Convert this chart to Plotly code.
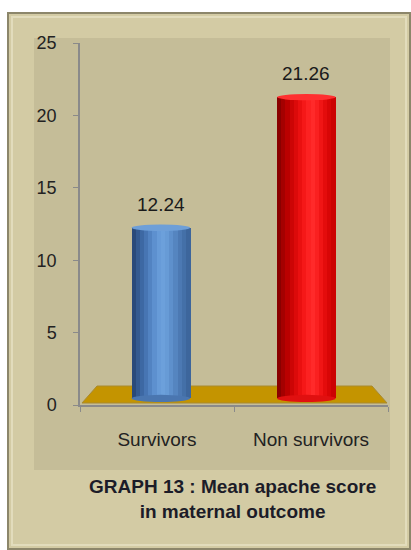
import plotly.graph_objects as go

categories = ["Survivors", "Non survivors"]
values = [12.24, 21.26]
value_labels = ["12.24", "21.26"]
y_ticks = [0, 5, 10, 15, 20, 25]
title_text = "GRAPH 13 : Mean apache score<br>in maternal outcome"

# styling
blue_grad = ["#2a4a7a", "#345a90", "#3d68a3", "#4775b3", "#5283c2", "#5d90cf", "#679bd8",
             "#6ca0db", "#679bd6", "#5e90cc", "#5585c0", "#4c79b3", "#4470a8", "#3d669c"]
red_grad = ["#8a0000", "#a40000", "#ba0000", "#cc0505", "#dc0a0a", "#ea1010", "#f51818",
            "#fc2222", "#ff2a2a", "#fa2020", "#f01515", "#e40c0c", "#d80606", "#cc0202"]
bar_w = 0.38
base_v = 0.45
shift = [0.025, -0.03]

fig = go.Figure()
n = len(blue_grad)
sw = bar_w / n
for i in range(n):
    fig.add_trace(go.Bar(
        x=categories, y=[v - base_v for v in values], base=base_v,
        width=sw * 1.15, offset=[-bar_w / 2 + i * sw + s for s in shift],
        marker=dict(color=[blue_grad[i], red_grad[i]], line=dict(width=0)),
        hoverinfo="skip", showlegend=False))

shapes = []
W = 411
H = 550
L, R, T, B = 80, 23, 43, 145
pw = W - L - R
ph = H - T - B
def px(x):
    return (x - L) / pw
def py(y):
    return (H - B - y) / ph

# outer panel
shapes.append(dict(type="rect", xref="paper", yref="paper", x0=px(8), x1=px(410), y0=py(13), y1=py(549),
                   fillcolor="#d3cba4", line=dict(color="#8c866a", width=2), layer="below"))
shapes.append(dict(type="rect", xref="paper", yref="paper", x0=px(12), x1=px(406), y0=py(17), y1=py(545),
                   fillcolor="rgba(0,0,0,0)", line=dict(color="#e2dcbc", width=2), layer="below"))
# inner plot region
shapes.append(dict(type="rect", xref="paper", yref="paper", x0=px(34), x1=px(390), y0=py(38), y1=py(470),
                   fillcolor="#c5bd98", line=dict(width=0), layer="below"))
# floor
shapes.append(dict(type="path", xref="paper", yref="paper",
                   path="M {},{} L {},{} L {},{} L {},{} Z".format(px(82), py(403), px(97), py(386),
                                                                  px(372), py(386), px(387), py(403)),
                   fillcolor="#c49400", line=dict(color="#a88a30", width=1), layer="below"))

top_cols = ["#6e9fd8", "#ff3030"]
bot_cols = ["#4a76b0", "#e01010"]
for i, v in enumerate(values):
    c = i + shift[i]
    shapes.append(dict(type="circle", xref="x", yref="y", x0=c - bar_w / 2, x1=c + bar_w / 2,
                       y0=base_v - 0.25, y1=base_v + 0.25, fillcolor=bot_cols[i], line=dict(width=0)))
    shapes.append(dict(type="circle", xref="x", yref="y", x0=c - bar_w / 2, x1=c + bar_w / 2,
                       y0=v - 0.22, y1=v + 0.22, fillcolor=top_cols[i], line=dict(width=0)))

annotations = []
for i, v in enumerate(values):
    annotations.append(dict(x=i + shift[i], y=v, text=value_labels[i], showarrow=False,
                            yanchor="bottom", yshift=11, font=dict(size=19, color="#1a1a1a")))
annotations.append(dict(x=px(232), y=py(499), xref="paper", yref="paper",
                        text="<b>" + title_text.replace("<br>", "</b><br><b>") + "</b>",
                        showarrow=False, align="center", xanchor="center", yanchor="middle",
                        font=dict(size=19, color="#1c1c28", family="Liberation Sans")))

fig.update_layout(
    width=W, height=H, margin=dict(l=L, r=R, t=T, b=B),
    paper_bgcolor="white", plot_bgcolor="rgba(0,0,0,0)",
    barmode="overlay", bargap=0,
    font=dict(family="Liberation Sans", size=16, color="#222222"),
    shapes=shapes, annotations=annotations, showlegend=False,
    xaxis=dict(type="category", showline=True, linecolor="#8a8a8a", linewidth=1.5,
               ticks="outside", tickson="boundaries", ticklen=5, tickcolor="#8a8a8a",
               showgrid=False, tickfont=dict(size=19, color="#222"), ticklabelstandoff=16,
               range=[-0.5, 1.5]),
    yaxis=dict(range=[0, 25], tickvals=y_ticks, showline=True, linecolor="#8a8a8a", linewidth=1.5,
               ticks="outside", ticklen=5, tickcolor="#8a8a8a", showgrid=False, zeroline=False,
               tickfont=dict(size=18, color="#222"), ticklabelstandoff=13),
)

fig.write_html("out.html", config={"displayModeBar": False},
               post_script="document.body.style.margin='0px';document.body.style.padding='0px';")
